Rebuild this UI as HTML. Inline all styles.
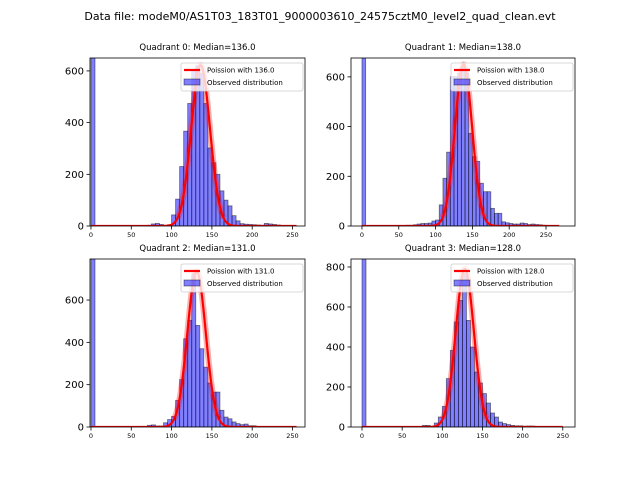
<!DOCTYPE html>
<html><head><meta charset="utf-8"><style>
body{margin:0;background:#fff}
svg{display:block;font-family:"DejaVu Sans","Liberation Sans",sans-serif}
</style></head><body>
<svg id="fig" width="640" height="480" viewBox="0 0 640 480">
<rect width="640" height="480" fill="#fff"/>
<text x="320" y="20" font-size="11" text-anchor="middle">Data file: modeM0/AS1T03_183T01_9000003610_24575cztM0_level2_quad_clean.evt</text>
</svg>
<script>
const binStarts=[60,65,70,75,80,85,90,95,100,105,110,115,120,125,130,135,140,145,150,155,160,165,170,175,180,185,190,195,200,205,210,215,220,225,230,235,240,245];
const q0Counts=[0,2,3,8,10,6,2,5,43,104,230,367,474,604,620,590,474,302,245,200,136,100,78,40,20,9,7,6,5,4,3,10,8,6,4,0,0,0];
const q1Counts=[3,3,5,8,10,10,12,20,24,85,192,297,601,601,615,640,615,373,279,260,172,138,138,71,51,51,17,13,10,8,8,12,10,6,8,6,5,3];
const q2Counts=[3,3,8,10,5,5,20,35,50,126,224,417,504,724,480,370,283,208,165,165,79,47,39,24,16,11,14,6,6,2,0,0,0,0,0,0,0,0];
const q3Counts=[0,0,3,8,8,3,20,50,103,242,383,525,633,767,533,400,275,220,167,120,70,50,25,17,12,8,6,6,4,5,5,0,0,0,0,0,0,0];
const zeroBinCounts=[2000,2000,2000,2000];
const medians=[136,138,131,128];
const curvePeaks=[622,650,735,790];
const curveEnds=[255,268,255,250];
const yTicks=[[0,200,400,600],[0,200,400,600],[0,200,400,600],[0,200,400,600,800]];
const xTicks=[0,50,100,150,200,250];
const yMax=[650,676,794,840];
const xDomains=[[-1.2,265.5],[-14.9,289.4],[-1.2,265.5],[-13.7,265.2]];
const boxes=[[90,58,305,226],[351,58,575,226],[90,259,305,427],[351,259,575,427]];
const allCounts=[q0Counts,q1Counts,q2Counts,q3Counts];
const NS="http://www.w3.org/2000/svg";
const svg=document.getElementById('fig');
function mk(tag,attrs,parent){const e=document.createElementNS(NS,tag);for(const k in attrs)e.setAttribute(k,attrs[k]);(parent||svg).appendChild(e);return e;}
for(let q=0;q<4;q++){
  const [L,T,R,B]=boxes[q];const [x0,x1]=xDomains[q];
  const sx=v=>L+(v-x0)/(x1-x0)*(R-L);
  const sy=v=>B-v/yMax[q]*(B-T);
  const g=mk('g',{});
  
  
  const clipId='clip'+q;
  const cp=mk('clipPath',{id:clipId},g);mk('rect',{x:L,y:T,width:R-L,height:B-T},cp);
  const plot=mk('g',{'clip-path':'url(#'+clipId+')'},g);
  const zb=mk('rect',{x:sx(0),y:sy(zeroBinCounts[q]),width:sx(5)-sx(0),height:sy(0)-sy(zeroBinCounts[q]),fill:'rgba(0,0,255,0.5)',stroke:'rgba(0,0,0,0.5)','stroke-width':0.8},plot);
  
  
  const cnt=allCounts[q];
  for(let i=0;i<binStarts.length;i++){
    if(cnt[i]<=0)continue;
    const b=binStarts[i];
    const r=mk('rect',{x:sx(b),y:sy(cnt[i]),width:sx(b+5)-sx(b),height:sy(0)-sy(cnt[i]),fill:'rgba(0,0,255,0.5)',stroke:'rgba(0,0,0,0.5)','stroke-width':0.8},plot);
    
    
  }
  let d='',dh='';const mu=medians[q];
  for(let v=0;v<=curveEnds[q];v+=0.5){const y=curvePeaks[q]*Math.exp(-(v-mu)*(v-mu)/(2*mu));const pt=sx(v).toFixed(2)+','+sy(y).toFixed(2);d+=(v?'L':'M')+pt;
    if(y>curvePeaks[q]*0.05){dh+=(dh?'L':'M')+pt;}}
  const halo=mk('path',{d:dh,fill:'none',stroke:'rgba(255,0,0,0.3)','stroke-width':6},plot);
  
  
  const cv=mk('path',{d:d,fill:'none',stroke:'#ff0000','stroke-width':2.2},plot);
  
  
  const fr=mk('rect',{x:L,y:T,width:R-L,height:B-T,fill:'none',stroke:'#000','stroke-width':0.8},g);
  
  
  for(const t of xTicks){const x=sx(t);mk('line',{x1:x,x2:x,y1:B,y2:B+3.5,stroke:'#000','stroke-width':0.8},g);
    const tx=mk('text',{x:x,y:B+11,'font-size':6.5,'text-anchor':'middle'},g);tx.textContent=t;
    
    }
  for(const t of yTicks[q]){const y=sy(t);mk('line',{x1:L,x2:L-3.5,y1:y,y2:y,stroke:'#000','stroke-width':0.8},g);
    const ty=mk('text',{x:L-6,y:y+3.5,'font-size':10,'text-anchor':'end'},g);ty.textContent=t;
    
    }
  const tt=mk('text',{x:(L+R)/2,y:T-8,'font-size':8.5,'text-anchor':'middle'},g);
  tt.textContent='Quadrant '+q+': Median='+mu.toFixed(1);
  
  
  const lg=mk('g',{},g);
  
  
  const lx=R-124,ly=T+5;
  mk('rect',{x:lx,y:ly,width:122,height:28,rx:2,fill:'rgba(255,255,255,0.8)',stroke:'#ccc','stroke-width':0.8},lg);
  mk('line',{x1:lx+3,x2:lx+19,y1:ly+7,y2:ly+7,stroke:'#f00','stroke-width':2.2},lg);
  const l1=mk('text',{x:lx+26,y:ly+9.5,'font-size':7},lg);l1.textContent='Poission with '+mu.toFixed(1);
  
  
  mk('rect',{x:lx+3,y:ly+16,width:16,height:6,fill:'rgba(0,0,255,0.5)',stroke:'rgba(0,0,0,0.5)','stroke-width':0.8},lg);
  const l2=mk('text',{x:lx+26,y:ly+22,'font-size':7},lg);l2.textContent='Observed distribution';
  
  
}
</script>
</body></html>
